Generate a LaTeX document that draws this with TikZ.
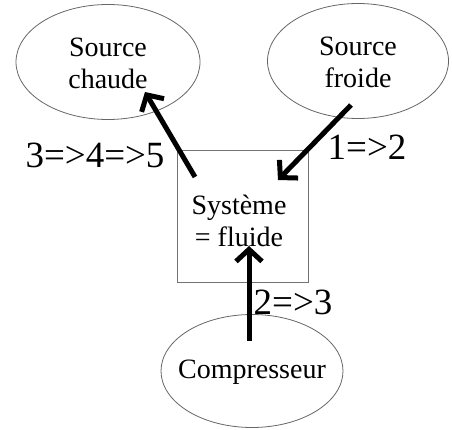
\documentclass[tikz,border=0pt]{standalone}
\usepackage{fontspec}
\setmainfont{Liberation Serif}
\usetikzlibrary{shapes.geometric,arrows.meta}
\begin{document}
\begin{tikzpicture}[x=1pt,y=-1pt,
  ell/.style={draw=black!60,line width=0.8pt,ellipse,inner sep=0pt},
  etext/.style={font=\fontsize{28}{32}\selectfont,align=center},
  lab/.style={font=\fontsize{37}{40}\selectfont,inner sep=0pt},
  fluxarrow/.style={line width=5pt,-{Straight Barb[length=12pt,width=26pt,line width=5pt]}}]
\useasboundingbox (0,0) rectangle (452,430);
\node[ell,minimum width=184pt,minimum height=115pt] (chaude) at (108,62) {};
\node[ell,minimum width=181pt,minimum height=115pt] (froide) at (358,61) {};
\node[ell,minimum width=182pt,minimum height=113pt] (comp) at (252,371) {};
\node[draw=black!55,line width=0.8pt,minimum width=131pt,minimum height=132pt,inner sep=0pt] (sys) at (242.5,216) {};
\node[etext] (tchaude) at (108,63) {Source\\chaude};
\node[etext] (tfroide) at (358,62) {Source\\froide};
\node[etext] (tsys) at (239,221) {Système\\= fluide};
\node[etext] (tcomp) at (252,372) {Compresseur};
\node[lab] (l345) at (95,155) {3=>4=>5};
\node[lab] (l12) at (367,147) {1=>2};
\node[lab] (l23) at (293,302) {2=>3};
\coordinate (a1s) at (351,105);
\coordinate (a1e) at (278,180);
\coordinate (a2s) at (195,177);
\coordinate (a2e) at (145,92);
\coordinate (a3s) at (249,341);
\coordinate (a3e) at (249,246);
\draw[fluxarrow] (a1s) -- (a1e);
\draw[fluxarrow] (a2s) -- (a2e);
\draw[fluxarrow] (a3s) -- (a3e);
\end{tikzpicture}
\end{document}
